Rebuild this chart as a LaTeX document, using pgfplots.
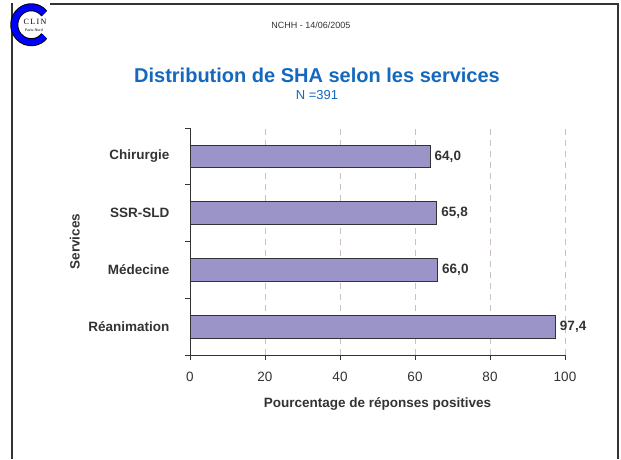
\documentclass[border=0pt]{standalone}
\usepackage{pgfplots}
\pgfplotsset{compat=1.18}
\usepackage{fontspec}
\setmainfont{Liberation Sans}
\newfontfamily\serifft{Liberation Serif}
\definecolor{barfill}{HTML}{9A94C8}
\definecolor{edge}{HTML}{333333}
\definecolor{titleblue}{HTML}{1468BE}
\definecolor{gridc}{HTML}{CDC0C0}

\begin{document}
\begin{tikzpicture}
\begin{scope}[x=1pt,y=1pt]
\path[use as bounding box] (0,0) rectangle (621,459);
% slide frame
\draw[edge, line width=2pt] (12,0) -- (12,455) -- (618,455) -- (618,0);
% logo
\fill[white] (13,412) rectangle (50,458);
\draw[black, line width=8pt] (44.3,445.5) arc[start angle=40, end angle=320, x radius=17, y radius=17.5];
\draw[blue, line width=6pt] (44.3,445.5) arc[start angle=40, end angle=320, x radius=17, y radius=17.5];
\node[font=\serifft\fontsize{8}{8}\selectfont, inner sep=0pt] at (35,437) {C\,L\,I\,N};
\node[font=\serifft\fontsize{4}{4}\selectfont, inner sep=0pt] at (34,429) {Paris-Nord};
% header
\node[font=\fontsize{9}{10}\selectfont, text=edge] at (311,434) {NCHH - 14/06/2005};
\node[text=titleblue, font=\bfseries\fontsize{20}{22}\selectfont] at (317,384) {Distribution de SHA selon les services};
\node[text=titleblue, font=\fontsize{13}{14}\selectfont] at (317,364) {N =391};
\end{scope}

\begin{axis}[
  at={(190pt,104pt)}, anchor=south west,
  scale only axis, width=375pt, height=227pt,
  xbar, bar width=22.6pt,
  xmin=0, xmax=100, ymin=-0.5, ymax=3.5,
  axis lines*=left,
  axis line style={edge, line width=0.8pt},
  tick align=outside,
  xtick={0,20,40,60,80,100},
  x tick style={edge, line width=0.8pt},
  major tick length=5pt,
  xmajorgrids,
  grid style={gridc, dash pattern=on 6pt off 5pt, line width=0.8pt},
  ytick={0,1,2,3},
  yticklabels={Réanimation, Médecine, SSR-SLD, Chirurgie},
  major y tick style={draw=none},
  minor ytick={-0.5,0.5,1.5,2.5,3.5},
  minor y tick style={edge, line width=0.8pt},
  minor tick length=5pt,
  /pgf/number format/assume math mode=true,
  y tick label style={font=\bfseries\fontsize{13.5}{14}\selectfont, text=edge, xshift=-12pt},
  x tick label style={font=\fontsize{13.5}{14}\selectfont, text=edge, yshift=-9pt},
  xlabel={Pourcentage de réponses positives},
  ylabel={Services},
  label style={font=\bfseries\fontsize{13.5}{14}\selectfont, text=edge},
  xlabel style={at={(axis description cs:0.5,-0.216)}, anchor=center},
  ylabel style={at={(axis description cs:-0.307,0.5)}, anchor=center},
  nodes near coords,
  nodes near coords style={font=\bfseries\fontsize{13.5}{14}\selectfont, text=edge, xshift=1pt,
    /pgf/number format/.cd, fixed, fixed zerofill, precision=1, use comma},
]
\addplot[fill=barfill, draw=edge, line width=0.8pt] coordinates {
  (97.4,0) (66.0,1) (65.8,2) (64.0,3)
};
\end{axis}
\end{tikzpicture}
\end{document}
